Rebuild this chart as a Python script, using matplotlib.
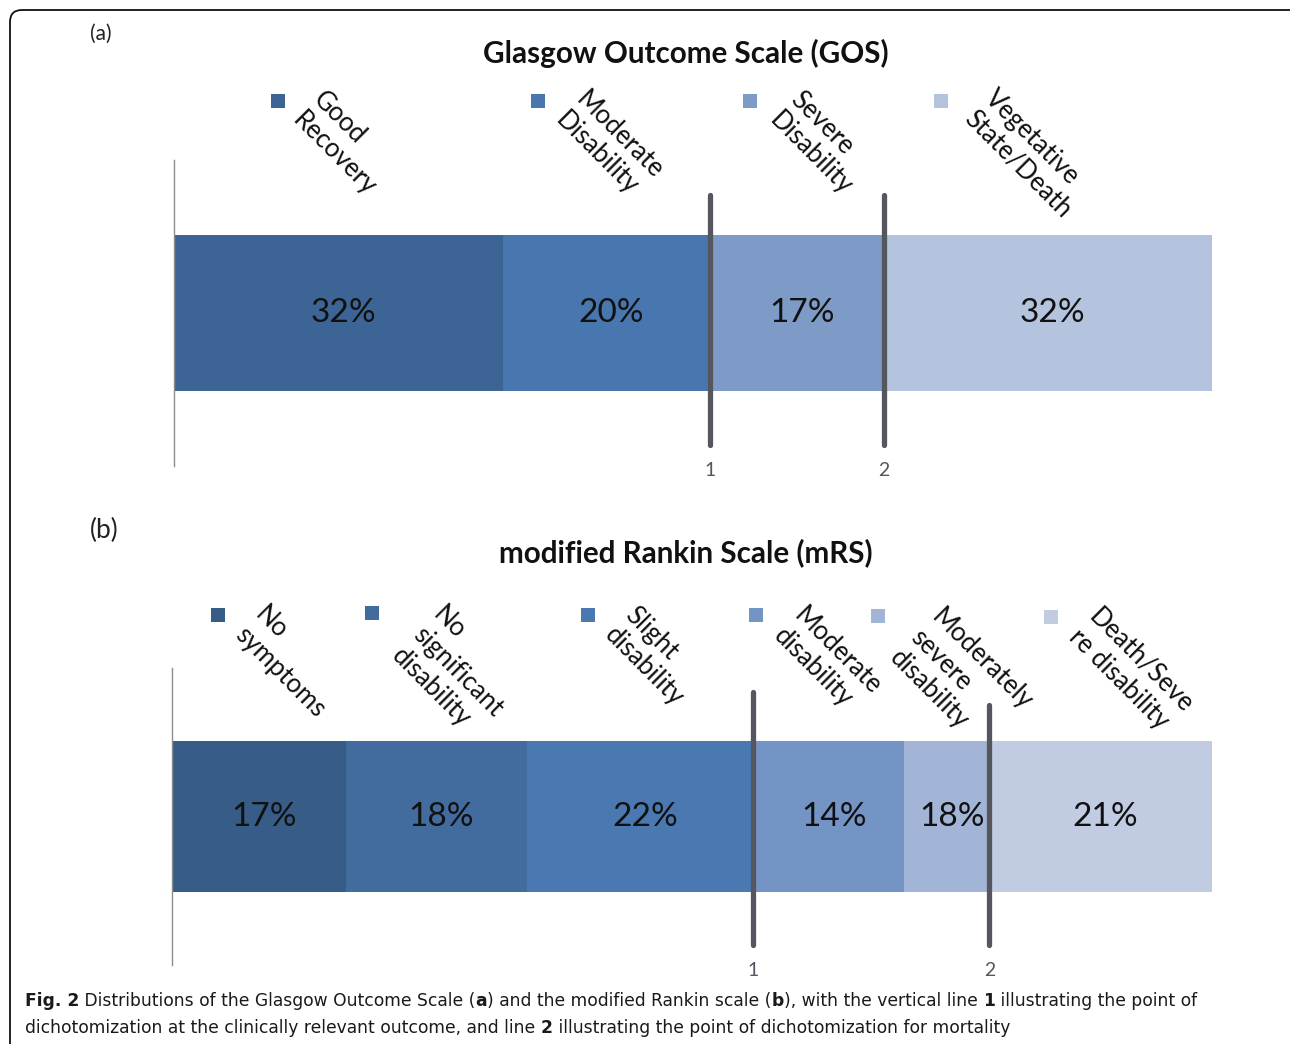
import matplotlib
matplotlib.use("Agg")
import matplotlib.pyplot as plt
import matplotlib.transforms as mtransforms
from matplotlib.patches import FancyBboxPatch, Rectangle
import numpy as np

# ---------------- data ----------------
gos_categories = ["Good\nRecovery", "Moderate\nDisability", "Severe\nDisability", "Vegetative\nState/Death"]
gos_values = [31.7, 19.9, 16.8, 31.6]
gos_labels = ["32%", "20%", "17%", "32%"]
gos_colors = ["#3C6595", "#4876AE", "#7D9BC6", "#B5C4DE"]
gos_cuts = [2, 3]          # line after this many segments

mrs_categories = ["No\nsymptoms", "No\nsignificant\ndisability", "Slight\ndisability",
                  "Moderate\ndisability", "Moderately\nsevere\ndisability", "Death/Seve\nre disability"]
mrs_values = [16.7, 17.4, 21.8, 14.5, 8.2, 21.4]
mrs_labels = ["17%", "18%", "22%", "14%", "18%", "21%"]
mrs_colors = ["#375C88", "#426B9E", "#4A79B2", "#7494C5", "#A3B5D6", "#C1CCE2"]
mrs_cuts = [3, 5]
cut_names = ["1", "2"]

W, H = 1290, 1044
FONT = "Lato"
plt.rcParams['font.family'] = [FONT, 'DejaVu Sans']

fig = plt.figure(figsize=(W / 100, H / 100), dpi=100)

ov = fig.add_axes([0, 0, 1, 1], zorder=5)
ov.set_xlim(0, W)
ov.set_ylim(H, 0)
ov.axis("off")

def fy(y):
    return 1 - y / H

def panel(left, right, top, bottom, values, labels, colors, cuts, line_spans, num_y):
    ax = fig.add_axes([left / W, fy(bottom), (right - left) / W, (bottom - top) / H])
    total = sum(values)
    lefts = np.concatenate([[0], np.cumsum(values)[:-1]])
    ax.barh(0.5, values, left=lefts, height=0.51, color=colors, edgecolor="none")
    ax.set_xlim(0, total)
    ax.set_ylim(0, 1)
    for l, v, lab in zip(lefts, values, labels):
        ax.annotate(lab, (l + v / 2, 0.5), xytext=(3.5, 0), textcoords="offset points",
                    ha="center", va="center", fontsize=24, color="#111111")
    trans = mtransforms.blended_transform_factory(ax.transData, ax.transAxes)
    cum = np.cumsum(values)
    for (ymin, ymax), c, name in zip(line_spans, cuts, cut_names):
        x = cum[c - 1]
        ax.plot([x, x], [ymin, ymax], transform=trans, color="#55565E", lw=3.8,
                solid_capstyle="round", zorder=4, clip_on=False)
        ax.text(x, num_y, name, transform=trans, ha="center", va="center",
                fontsize=14, color="#555560")
    for s in ["top", "right", "bottom"]:
        ax.spines[s].set_visible(False)
    ax.spines["left"].set_color("#8C8C8C")
    ax.spines["left"].set_linewidth(1.0)
    ax.set_xticks([])
    ax.set_yticks([])
    ax.patch.set_alpha(0)
    return ax

panel(174, 1212, 160, 466, gos_values, gos_labels, gos_colors, gos_cuts,
      [((466 - 445) / 306, (466 - 195) / 306), ((466 - 445) / 306, (466 - 195) / 306)],
      (466 - 470) / 306)
panel(172, 1212, 668, 965, mrs_values, mrs_labels, mrs_colors, mrs_cuts,
      [((965 - 945) / 297, (965 - 692) / 297), ((965 - 945) / 297, (965 - 705) / 297)],
      (965 - 970) / 297)

ov.text(686, 53, "Glasgow Outcome Scale (GOS)", ha="center", va="center",
        fontsize=21.3, fontweight="bold", color="#111111")
ov.text(686, 553, "modified Rankin Scale (mRS)", ha="center", va="center",
        fontsize=21.3, fontweight="bold", color="#111111")
ov.text(90, 34, "(a)", ha="left", va="center", fontsize=15, color="#222222")
ov.text(90, 530, "(b)", ha="left", va="center", fontsize=19, color="#222222")

gos_sq = [(278, 101), (538, 101), (750, 101), (941, 101)]
gos_tx = [(326, 87), (589, 87), (803, 87), (998, 85)]
mrs_sq = [(218, 615), (372, 613), (588, 615), (756, 615), (878, 616), (1051, 617)]
mrs_tx = [(268, 602), (446, 602), (638, 602), (807, 603), (944, 604), (1102, 604)]

def legend(cats, colors, sqs, txs):
    for cat, col, (sx, sy), (tx, ty) in zip(cats, colors, sqs, txs):
        ov.add_patch(Rectangle((sx - 7, sy - 7), 14, 14, facecolor=col, edgecolor="none"))
        ov.text(tx, ty, cat, rotation=-45, rotation_mode="anchor", ha="left", va="top",
                multialignment="left", fontsize=18.5, color="#111111", linespacing=1.2)

legend(gos_categories, gos_colors, gos_sq, gos_tx)
legend(mrs_categories, mrs_colors, mrs_sq, mrs_tx)

ov.add_patch(FancyBboxPatch((10, 10), W + 30, H + 30, boxstyle="round,pad=0,rounding_size=12",
                            facecolor="none", edgecolor="#111111", lw=1.3, clip_on=False))

cap_font = ["Liberation Sans Narrow", "DejaVu Sans"]
line1 = [("Fig. 2", True), (" Distributions of the Glasgow Outcome Scale (", False), ("a", True),
         (") and the modified Rankin scale (", False), ("b", True),
         ("), with the vertical line ", False), ("1", True), (" illustrating the point of", False)]
line2 = [("dichotomization at the clinically relevant outcome, and line ", False), ("2", True),
         (" illustrating the point of dichotomization for mortality", False)]

fig.canvas.draw()
renderer = fig.canvas.get_renderer()

def draw_line(segs, x0, y, size):
    x = x0
    arts = []
    for s, b in segs:
        t = ov.text(x, y, s, ha="left", va="center", fontsize=size, family=cap_font,
                    fontweight="bold" if b else "normal", color="#1A1A1A")
        bb = t.get_window_extent(renderer=renderer)
        x += bb.width
        arts.append(t)
    return x, arts

end, arts = draw_line(line1, 25, 1001, 15)
scale = (1195 - 25) / (end - 25)
for a in arts:
    a.remove()
size = 15 * scale
draw_line(line1, 25, 1001, size)
draw_line(line2, 25, 1028, size)

fig.savefig("out.png", dpi=100, facecolor="white")
